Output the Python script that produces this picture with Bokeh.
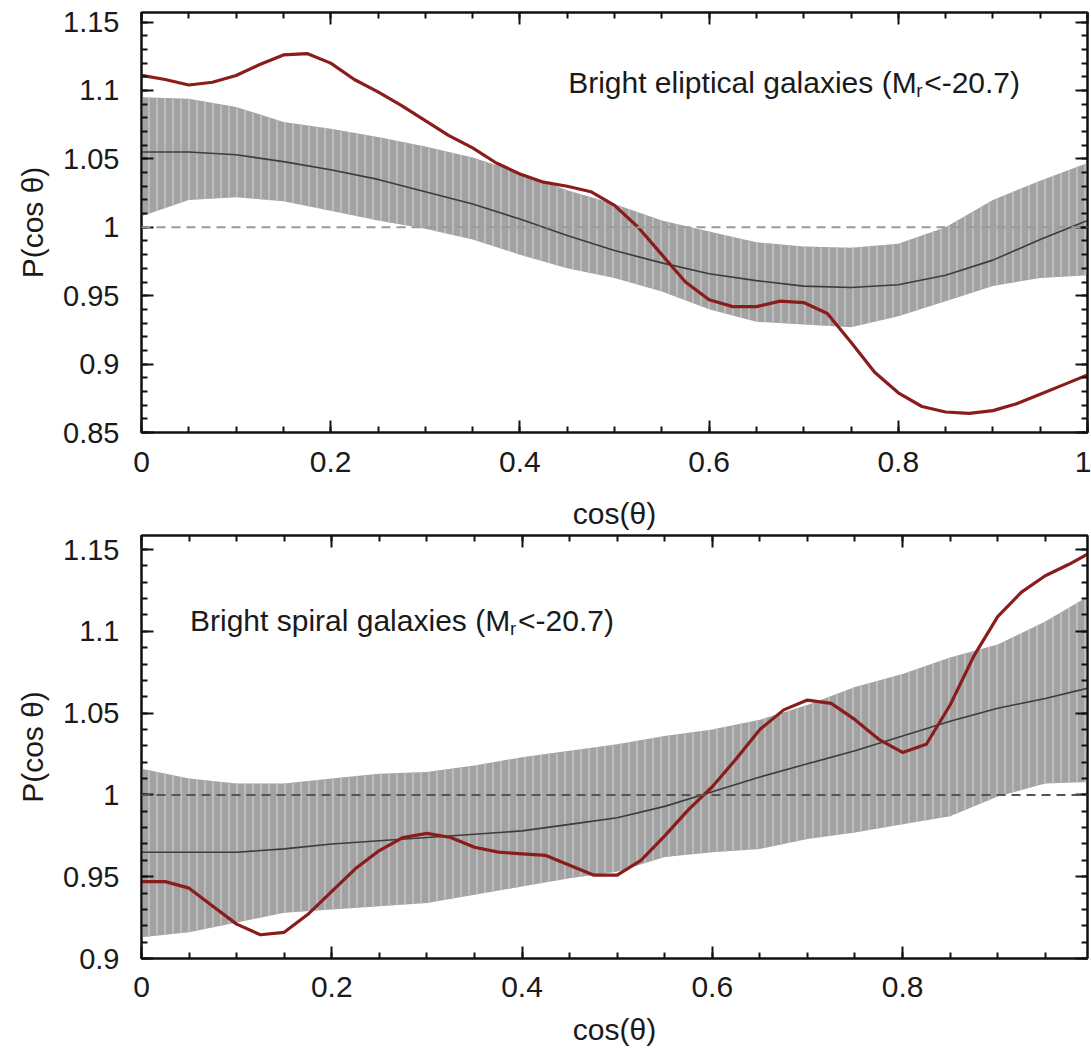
import numpy as np
from bokeh.plotting import figure
from bokeh.models import (ColumnDataSource, LinearAxis, FixedTicker, NumeralTickFormatter,
                          Label, Span, Range1d, CustomLabelingPolicy)
from bokeh.layouts import column
from bokeh.embed import file_html
from bokeh.resources import INLINE

# ---------------- data ----------------
x_fine = [0.0, 0.025, 0.05, 0.075, 0.1, 0.125, 0.15, 0.175, 0.2, 0.225, 0.25, 0.275, 0.3,
          0.325, 0.35, 0.375, 0.4, 0.425, 0.45, 0.475, 0.5, 0.525, 0.55, 0.575, 0.6, 0.625,
          0.65, 0.675, 0.7, 0.725, 0.75, 0.775, 0.8, 0.825, 0.85, 0.875, 0.9, 0.925, 0.95,
          0.975, 1.0]
x_coarse = [0.0, 0.05, 0.1, 0.15, 0.2, 0.25, 0.3, 0.35, 0.4, 0.45, 0.5, 0.55, 0.6, 0.65,
            0.7, 0.75, 0.8, 0.85, 0.9, 0.95, 1.0]

# Top panel: bright elliptical galaxies
ell_observed = [1.111, 1.108, 1.104, 1.106, 1.111, 1.119, 1.126, 1.127, 1.120, 1.108, 1.099,
                1.089, 1.078, 1.067, 1.058, 1.047, 1.039, 1.033, 1.030, 1.026, 1.016, 1.000,
                0.980, 0.960, 0.947, 0.942, 0.942, 0.946, 0.945, 0.937, 0.916, 0.894, 0.879,
                0.869, 0.865, 0.864, 0.866, 0.871, 0.878, 0.885, 0.892]
ell_mean = [1.055, 1.055, 1.053, 1.048, 1.042, 1.035, 1.026, 1.017, 1.006, 0.994, 0.983,
            0.974, 0.966, 0.961, 0.957, 0.956, 0.958, 0.965, 0.976, 0.991, 1.005]
ell_upper = [1.095, 1.094, 1.088, 1.077, 1.072, 1.066, 1.059, 1.051, 1.040, 1.027, 1.017,
             1.005, 0.997, 0.989, 0.986, 0.985, 0.988, 1.000, 1.020, 1.034, 1.047]
ell_lower = [1.008, 1.020, 1.022, 1.019, 1.012, 1.005, 0.999, 0.991, 0.980, 0.970, 0.963,
             0.953, 0.940, 0.931, 0.929, 0.927, 0.935, 0.946, 0.957, 0.963, 0.965]

# Bottom panel: bright spiral galaxies
spi_observed = [0.947, 0.947, 0.943, 0.932, 0.921, 0.9145, 0.916, 0.927, 0.941, 0.955, 0.966,
                0.974, 0.9765, 0.974, 0.968, 0.965, 0.964, 0.963, 0.957, 0.951, 0.951, 0.960,
                0.975, 0.991, 1.005, 1.022, 1.040, 1.052, 1.058, 1.056, 1.046, 1.034, 1.026,
                1.031, 1.055, 1.085, 1.109, 1.124, 1.134, 1.141, 1.149]
spi_mean = [0.965, 0.965, 0.965, 0.967, 0.970, 0.972, 0.974, 0.976, 0.978, 0.982, 0.986,
            0.993, 1.002, 1.011, 1.019, 1.027, 1.036, 1.045, 1.053, 1.059, 1.066]
spi_upper = [1.016, 1.010, 1.007, 1.007, 1.010, 1.013, 1.014, 1.018, 1.023, 1.027, 1.031,
             1.036, 1.040, 1.046, 1.055, 1.066, 1.074, 1.084, 1.092, 1.106, 1.123]
spi_lower = [0.913, 0.916, 0.922, 0.928, 0.930, 0.932, 0.934, 0.939, 0.944, 0.949, 0.953,
             0.962, 0.965, 0.967, 0.973, 0.977, 0.982, 0.987, 0.999, 1.007, 1.008]

x_ticks = [0, 0.2, 0.4, 0.6, 0.8, 1.0]
y_ticks_top = [0.85, 0.9, 0.95, 1.0, 1.05, 1.1, 1.15]
y_ticks_bottom = [0.9, 0.95, 1.0, 1.05, 1.1, 1.15]
reference_level = 1.0

FONT = "Liberation Sans"
TXT = "#1a1a1a"
x_minor = [round(v, 3) for v in np.arange(0, 1.0001, 0.05)]
y_minor = [round(v, 3) for v in np.arange(0.80, 1.20001, 0.01)]


def style_axis(ax, ticks, minor, labels=True, tick_size="30px"):
    ax.ticker = FixedTicker(ticks=ticks, minor_ticks=minor)
    ax.formatter = NumeralTickFormatter(format="0.[00]")
    ax.axis_line_width = 2
    ax.axis_line_color = "#111111"
    ax.major_tick_line_width = 2
    ax.major_tick_line_color = "#111111"
    ax.minor_tick_line_width = 2
    ax.minor_tick_line_color = "#111111"
    ax.major_tick_in = 12
    ax.major_tick_out = 0
    ax.minor_tick_in = 6
    ax.minor_tick_out = 0
    ax.major_label_text_font = FONT
    ax.major_label_text_color = TXT
    if labels:
        ax.major_label_text_font_size = tick_size
    else:
        ax.major_label_text_font_size = "0px"
        ax.major_label_standoff = 0
        ax.major_label_policy = CustomLabelingPolicy(code="return new Set()")


def make_panel(x_end, y_start, y_end, y_ticks, height, mb, obs, mean, up, lo,
               dash_color, xstand, xlabstand):
    p = figure(width=1091, height=height, output_backend="svg", toolbar_location=None,
               x_range=Range1d(0, x_end), y_range=Range1d(y_start, y_end),
               min_border_left=mb[0], min_border_right=mb[1], min_border_top=mb[2],
               min_border_bottom=mb[3])
    p.xgrid.visible = False
    p.ygrid.visible = False
    p.outline_line_color = "#111111"
    p.outline_line_width = 2
    p.background_fill_color = "white"
    p.border_fill_color = "white"

    band = ColumnDataSource(dict(x=x_coarse, up=up, lo=lo, mean=mean))
    p.varea(x="x", y1="lo", y2="up", source=band, fill_color="#a2a2a2",
            hatch_pattern="vertical_line", hatch_color="#bcbcbc", hatch_scale=8,
            hatch_weight=2)
    p.add_layout(Span(location=reference_level, dimension="width", line_color=dash_color,
                      line_dash="9 6", line_width=2))
    p.line(x="x", y="mean", source=band, line_color="#3c3c3c", line_width=1.6)
    obs_src = ColumnDataSource(dict(x=x_fine, y=obs))
    p.line(x="x", y="y", source=obs_src, line_color="#8a1c1c", line_width=3.2,
           line_join="round")

    style_axis(p.xaxis[0], x_ticks, x_minor)
    style_axis(p.yaxis[0], y_ticks, y_minor, tick_size="29px")
    p.xaxis[0].major_label_standoff = xstand
    p.yaxis[0].major_label_standoff = 22
    p.xaxis[0].axis_label = "cos(θ)"
    p.xaxis[0].axis_label_standoff = xlabstand
    p.yaxis[0].axis_label = "P(cos θ)"
    p.yaxis[0].axis_label_standoff = 11
    for ax in (p.xaxis[0], p.yaxis[0]):
        ax.axis_label_text_font = FONT
        ax.axis_label_text_font_size = "30px"
        ax.axis_label_text_font_style = "normal"
        ax.axis_label_text_color = TXT

    top = LinearAxis()
    style_axis(top, x_ticks, x_minor, labels=False)
    p.add_layout(top, "above")
    right = LinearAxis()
    style_axis(right, y_ticks, y_minor, labels=False)
    p.add_layout(right, "right")
    return p


p1 = make_panel(1.0, 0.85, 1.157, y_ticks_top, 532, (140, 4, 12, 100),
                ell_observed, ell_mean, ell_upper, ell_lower, "#9a9a9a", 19, 22)
p2 = make_panel(0.9944, 0.9, 1.1586, y_ticks_bottom, 520, (141, 2, 3, 94),
                spi_observed, spi_mean, spi_upper, spi_lower, "#555555", 18, 13)


def add_title(p, x, y, main, w_main):
    kw = dict(text_font=FONT, text_color=TXT, text_baseline="alphabetic")
    p.add_layout(Label(x=x, y=y, text=main, text_font_size="30px", **kw))
    p.add_layout(Label(x=x, y=y, x_offset=w_main, y_offset=-8, text="r",
                       text_font_size="19px", **kw))
    p.add_layout(Label(x=x, y=y, x_offset=w_main + 8, text="<-20.7)",
                       text_font_size="30px", **kw))


add_title(p1, 0.451, 1.106, "Bright eliptical galaxies (M", 348)
add_title(p2, 0.051, 1.1066, "Bright spiral galaxies (M", 320)

layout = column(p1, p2, spacing=0)
open("out.html", "w").write(file_html(layout, INLINE))
